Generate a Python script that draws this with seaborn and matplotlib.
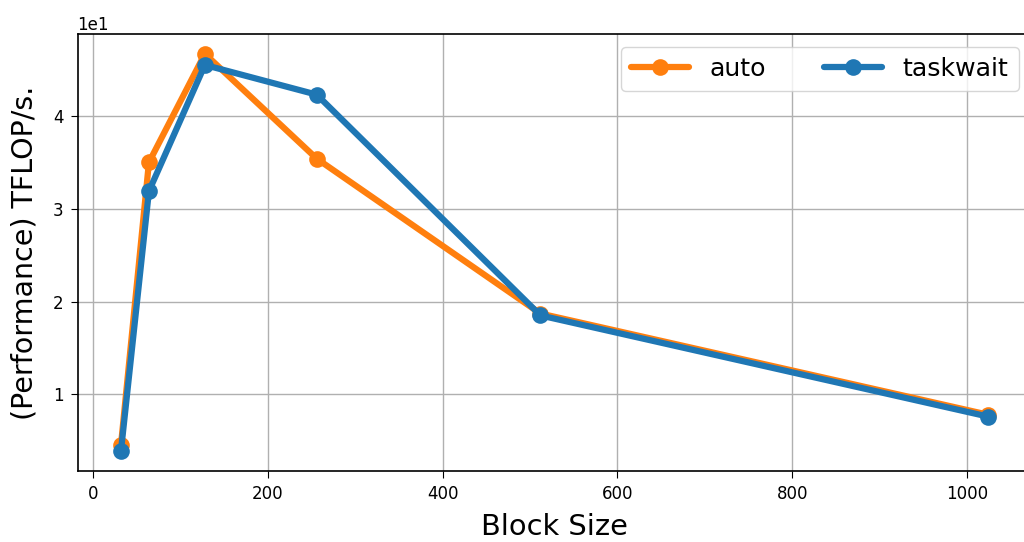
import matplotlib
matplotlib.use("Agg")
import matplotlib.pyplot as plt
import seaborn as sns
import pandas as pd

block_sizes = [32, 64, 128, 256, 512, 1024]
auto_perf = [4.5, 35.0, 46.7, 35.4, 18.7, 7.8]
taskwait_perf = [3.9, 31.9, 45.5, 42.3, 18.5, 7.6]
series_names = ["auto", "taskwait"]

df = pd.DataFrame({
    "Block Size": block_sizes * 2,
    "perf": auto_perf + taskwait_perf,
    "series": [series_names[0]] * len(block_sizes) + [series_names[1]] * len(block_sizes),
})

sns.set_style("ticks")
plt.rcParams["font.family"] = ["DejaVu Sans"]
plt.rcParams["text.color"] = "black"
plt.rcParams["axes.labelcolor"] = "black"
plt.rcParams["xtick.color"] = "black"
plt.rcParams["ytick.color"] = "black"

fig, ax = plt.subplots(figsize=(10.24, 5.42), dpi=100)
fig.subplots_adjust(left=0.0758, right=1.0071, top=0.9373, bottom=0.1315)

sns.lineplot(data=df, x="Block Size", y="perf", hue="series",
             palette={"auto": "#ff7f0e", "taskwait": "#1f77b4"},
             marker="o", markersize=12, markeredgewidth=0, linewidth=4.5,
             ax=ax)

ax.grid(True, color="#b0b0b0", linewidth=1)
ax.set_axisbelow(True)
for s in ax.spines.values():
    s.set_color("black")
    s.set_linewidth(1.2)
ax.ticklabel_format(axis="y", style="sci", scilimits=(0, 0))
ax.tick_params(labelsize=12, direction="out", length=5.2, pad=5, color="black",
               labelcolor="black")
ax.yaxis.get_offset_text().set_fontsize(12)
ax.yaxis.get_offset_text().set_color("black")
ax.set_xlabel("Block Size", fontsize=20.8, color="black", labelpad=7)
ax.set_ylabel("(Performance) TFLOP/s.", fontsize=20.5, color="black", labelpad=10)
ax.legend(loc="upper right", ncol=2, fontsize=18.2, handlelength=2.3,
          columnspacing=2.3, framealpha=0.8)

fig.savefig("out.png", dpi=100)
